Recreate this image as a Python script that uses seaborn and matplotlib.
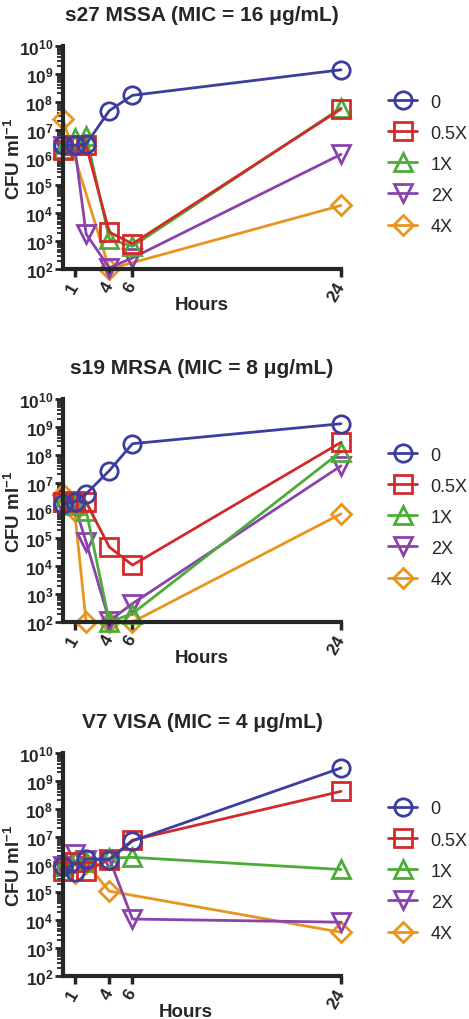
import numpy as np
import pandas as pd
import seaborn as sns
from matplotlib import pyplot as plt
from matplotlib import ticker as tick
from matplotlib.lines import Line2D


HOURS = [0, 1, 2, 4, 6, 24]
DOSES = ["0", "0.5X", "1X", "2X", "4X"]
XTICKS = [1, 4, 6, 24]

# s27 MSSA
s27_0 = [2.7e6, 2.8e6, 3.0e6, 4.8e7, 1.7e8, 1.4e9]
s27_05 = [1.8e6, 2.7e6, 2.7e6, 2.1e3, 8.0e2, 5.5e7]
s27_1 = [2.0e6, 5.0e6, 6.0e6, 1.2e3, 6.5e2, 6.0e7]
s27_2 = [2.5e6, 2.6e6, 1.8e3, 1.1e2, 2.5e2, 1.3e6]
s27_4 = [2.4e7, np.nan, np.nan, 1.0e2, np.nan, 1.9e4]

# s19 MRSA
s19_0 = [1.7e6, 2.0e6, 4.0e6, 2.7e7, 2.5e8, 1.3e9]
s19_05 = [2.0e6, 2.2e6, 2.0e6, 4.9e4, 1.1e4, 2.8e8]
s19_1 = [2.0e6, 1.6e6, 1.0e6, 1.0e2, 2.0e2, 1.3e8]
s19_2 = [1.6e6, 1.6e6, 7.4e4, 1.1e2, 4.6e2, 4.0e7]
s19_4 = [4.0e6, 1.0e6, 1.0e2, 1.0e2, 1.0e2, 7.6e5]

# V7 VISA
v7_0 = [8.5e5, 5.2e5, 1.6e6, 1.5e6, 7.0e6, 2.9e9]
v7_05 = [6.0e5, 1.2e6, 5.8e5, 1.5e6, 7.5e6, 4.2e8]
v7_1 = [8.5e5, 1.3e6, 1.2e6, 1.7e6, 1.8e6, 6.6e5]
v7_2 = [9.0e5, 2.3e6, 1.5e6, 1.6e6, 1.1e4, 8.5e3]
v7_4 = [9.0e5, 5.0e5, 1.1e6, 1.1e5, np.nan, 3.7e3]

PANELS = [
    ("s27 MSSA (MIC = 16 μg/mL)", [s27_0, s27_05, s27_1, s27_2, s27_4], 0.7353, 0.5),
    ("s19 MRSA (MIC = 8 μg/mL)", [s19_0, s19_05, s19_1, s19_2, s19_4], 0.3892, 0.5),
    ("V7 VISA (MIC = 4 μg/mL)", [v7_0, v7_05, v7_1, v7_2, v7_4], 0.0422, 0.44),
]

COLORS = {"0": "#3b3e9f", "0.5X": "#d22a2a", "1X": "#4dac38",
          "2X": "#8a43ad", "4X": "#e8951f"}
MARKERS = {"0": "o", "0.5X": "s", "1X": "^", "2X": "v", "4X": "D"}


def make_frame(series):
    frames = []
    for dose, vals in zip(DOSES, series):
        frames.append(pd.DataFrame({"Hours": HOURS, "CFU": vals, "Dose": dose}))
    return pd.concat(frames).dropna()


def plot_panel(fig, bottom, title, series, hours_x):
    ax = fig.add_axes([0.1343, bottom, 0.5928, 0.2186])
    df = make_frame(series)
    sns.lineplot(
        data=df,
        x="Hours",
        y="CFU",
        hue="Dose",
        style="Dose",
        hue_order=DOSES[::-1],
        style_order=DOSES[::-1],
        palette=COLORS,
        markers=MARKERS,
        dashes=False,
        estimator=None,
        legend=False,
        linewidth=2,
        markersize=12.5,
        clip_on=False,
        ax=ax,
    )
    for line in ax.lines:
        c = line.get_color()
        line.set_markerfacecolor("none")
        line.set_markeredgecolor(c)
        line.set_markeredgewidth(2)
        if line.get_marker() == "D":
            line.set_markersize(10)

    ax.set_yscale("log")
    ax.set_ylim(1e2, 1e10)
    ax.set_xlim(0, 24)
    ax.yaxis.set_major_locator(tick.LogLocator(base=10, numticks=20))
    ax.yaxis.set_minor_locator(tick.LogLocator(base=10, subs=np.arange(2, 10), numticks=20))
    ax.yaxis.set_major_formatter(
        tick.FuncFormatter(lambda v, p: r"$\mathbf{10^{%d}}$" % round(np.log10(v)))
    )
    ax.yaxis.set_minor_formatter(tick.NullFormatter())
    ax.set_xticks(XTICKS)
    ax.set_xticklabels([str(x) for x in XTICKS], rotation=60, ha="right",
                       va="center", rotation_mode="anchor", fontweight="bold")
    ax.tick_params(axis="x", length=6, width=2.5, labelsize=12.5, pad=4)
    ax.tick_params(axis="y", which="major", length=6, width=2, labelsize=12.5, pad=1)
    ax.tick_params(axis="y", which="minor", length=4, width=1.3)
    for side in ["left", "bottom"]:
        ax.spines[side].set_linewidth(3)
    sns.despine(ax=ax)

    ax.set_title(title, fontsize=15, fontweight="bold", pad=19)
    ax.set_xlabel("Hours", fontsize=13.5, fontweight="bold")
    ax.xaxis.set_label_coords(hours_x, -0.12)
    ax.set_ylabel("CFU ml$^{\\mathbf{-1}}$", fontsize=13.5, fontweight="bold")
    ax.yaxis.set_label_coords(-0.14, 0.5)

    handles = [
        Line2D([], [], color=COLORS[d], marker=MARKERS[d], mfc="none",
               mec=COLORS[d], mew=2, lw=2, ms=10 if d == "4X" else 12.5)
        for d in DOSES
    ]
    ax.legend(handles, DOSES, loc="center left", bbox_to_anchor=(1.17, 0.47),
              frameon=False, handlelength=1.6, handletextpad=0.75,
              labelspacing=0.78, borderaxespad=0, borderpad=0, fontsize=13)
    return ax


def main():
    sns.set_style("ticks")
    plt.rcParams["font.family"] = ["Liberation Sans", "DejaVu Sans"]
    plt.rcParams["mathtext.fontset"] = "custom"
    plt.rcParams["mathtext.bf"] = "Liberation Sans:bold"
    plt.rcParams["mathtext.rm"] = "Liberation Sans"
    fig = plt.figure(figsize=(4.69, 10.2), dpi=100)
    for title, series, bottom, hours_x in PANELS:
        plot_panel(fig, bottom, title, series, hours_x)
    plt.savefig("out.png", dpi=100)


if __name__ == "__main__":
    main()
